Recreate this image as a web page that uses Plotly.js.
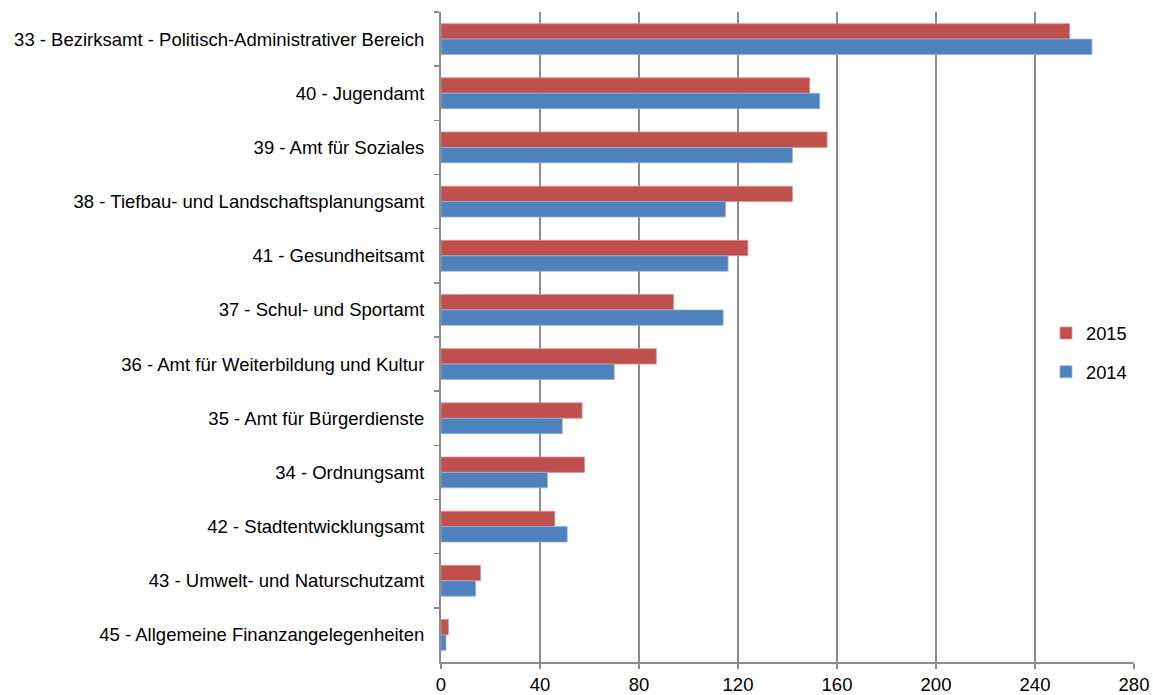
<!DOCTYPE html>
<html>
<head>
<meta charset="utf-8">
<script src="https://cdn.plot.ly/plotly-3.0.1.min.js"></script>
<style>html,body{margin:0;padding:0;background:#fff}#chart{width:1153px;height:695px}</style>
</head>
<body>
<div id="chart"></div>
<script>
const categories = [
  "33 - Bezirksamt - Politisch-Administrativer Bereich",
  "40 - Jugendamt",
  "39 - Amt für Soziales",
  "38 - Tiefbau- und Landschaftsplanungsamt",
  "41 - Gesundheitsamt",
  "37 - Schul- und Sportamt",
  "36 - Amt für Weiterbildung und Kultur",
  "35 - Amt für Bürgerdienste",
  "34 - Ordnungsamt",
  "42 - Stadtentwicklungsamt",
  "43 - Umwelt- und Naturschutzamt",
  "45 - Allgemeine Finanzangelegenheiten"
];
const values2015 = [254, 149, 156, 142, 124, 94, 87, 57, 58, 46, 16, 3];
const values2014 = [263, 153, 142, 115, 116, 114, 70, 49, 43, 51, 14, 2];
const xTicks = [0, 40, 80, 120, 160, 200, 240, 280];

const traces = [
  {type: 'bar', orientation: 'h', name: '2015', y: categories, x: values2015,
   marker: {color: '#C0504D', line: {color: '#D99795', width: 0.8}}, legendgroup: 'a', hoverinfo: 'x'},
  {type: 'bar', orientation: 'h', name: '2014', y: categories, x: values2014,
   marker: {color: '#4F81BD', line: {color: '#95B3D7', width: 0.8}}, legendgroup: 'b', hoverinfo: 'x'}
];

const layout = {
  width: 1153, height: 695,
  margin: {l: 441, r: 19, t: 12, b: 33, pad: 0},
  paper_bgcolor: '#fff', plot_bgcolor: '#fff',
  font: {family: 'Liberation Sans, Arial, sans-serif', size: 18.5, color: '#000'},
  barmode: 'group', bargap: 0.43, bargroupgap: 0,
  showlegend: true,
  legend: {x: 0.873, y: 0.476, xanchor: 'left', yanchor: 'middle', traceorder: 'grouped',
           tracegroupgap: 12, font: {size: 18.3}, itemwidth: 30, bgcolor: 'rgba(0,0,0,0)'},
  xaxis: {range: [0, 280], tickvals: xTicks, ticktext: xTicks.map(String),
          showgrid: true, gridcolor: '#8c8c8c', gridwidth: 2,
          showline: true, linecolor: '#8c8c8c', linewidth: 2,
          ticks: 'outside', ticklen: 5, tickcolor: '#8c8c8c', tickwidth: 1.5,
          zeroline: false, fixedrange: true, tickfont: {size: 18.5}},
  yaxis: {type: 'category', autorange: 'reversed', showline: true, linecolor: '#8c8c8c', linewidth: 2,
          ticks: 'outside', ticklen: 5, tickcolor: '#8c8c8c', tickwidth: 1.5, tickson: 'boundaries',
          showgrid: false, ticklabelstandoff: 11, tickfont: {size: 18.5}, fixedrange: true}
};

Plotly.newPlot('chart', traces, layout, {displayModeBar: false, staticPlot: true});
</script>
</body>
</html>
